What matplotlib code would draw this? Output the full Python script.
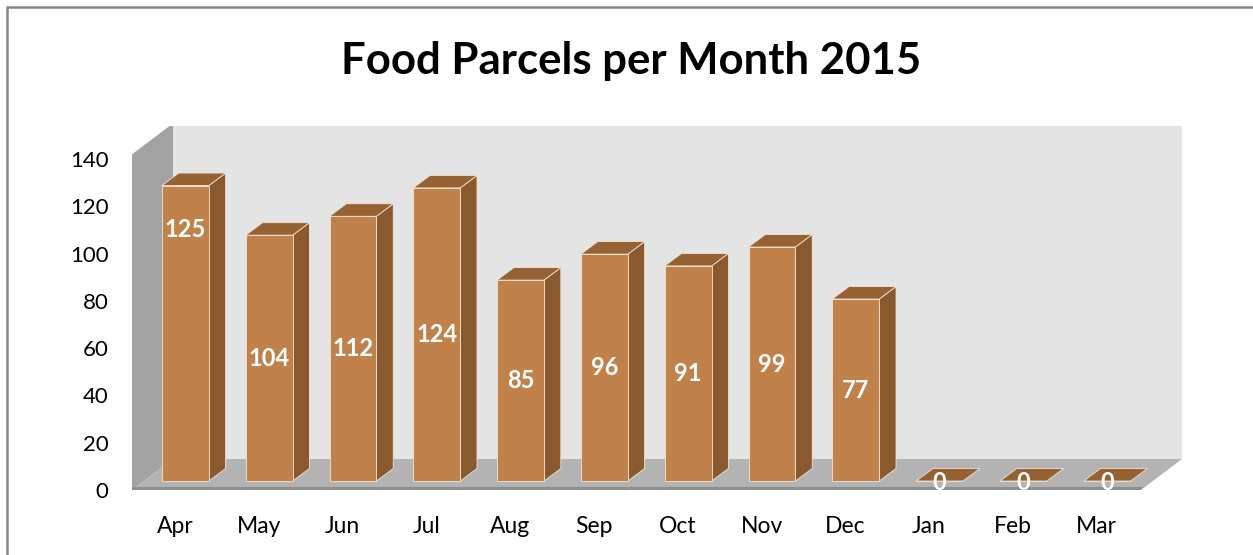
import matplotlib.pyplot as plt
from matplotlib.patches import Polygon, Rectangle

months = ['Apr', 'May', 'Jun', 'Jul', 'Aug', 'Sep', 'Oct', 'Nov', 'Dec', 'Jan', 'Feb', 'Mar']
parcels = [125, 104, 112, 124, 85, 96, 91, 99, 77, 0, 0, 0]
yticks = [0, 20, 40, 60, 80, 100, 120, 140]

# colours
front_col = '#c0814b'
side_col = '#8a5a2e'
top_col = '#966233'
wall_col = '#e4e4e4'
side_wall_col = '#a3a3a3'
floor_col = '#b3b3b3'

plt.rcParams['font.family'] = ['Lato', 'DejaVu Sans']

fig = plt.figure(figsize=(12.53, 5.55), dpi=100)
ax = fig.add_axes([0.1053, 0.1171, 0.838, 0.6559])
ax.set_xlim(-0.513, 12.017)
ax.set_ylim(0, 154.0)

# fake 3d geometry, in data units
off_x, off_y = 0.125, 3.8      # bar front face sits a bit back from the axis plane
ddx, ddy = 0.2, 5.3            # depth of one bar
wdx, wdy = 0.49, 13.1          # depth of the floor / left wall
bw = 0.56
x_lo, x_hi = -0.513, 12.017 - wdx
top_v = 140.0

# back wall, left wall, floor
ax.add_patch(Rectangle((x_lo + wdx, wdy), x_hi - x_lo, 154.0 - wdy, facecolor=wall_col,
                       edgecolor='none', zorder=0))
ax.add_patch(Polygon([(x_lo, 0), (x_lo, top_v + 2), (x_lo + wdx, top_v + 2 + wdy), (x_lo + wdx, wdy)],
                     closed=True, facecolor=side_wall_col, edgecolor='none', zorder=1))
ax.add_patch(Polygon([(x_lo, 0), (x_hi, 0), (x_hi + wdx, wdy), (x_lo + wdx, wdy)],
                     closed=True, facecolor=floor_col, edgecolor='none', zorder=1))
ax.add_patch(Polygon([(x_lo, 0), (x_hi, 0), (x_hi + 0.02, 1.3), (x_lo, 1.3)],
                     closed=True, facecolor='#8e8e8e', edgecolor='none', zorder=1))

# bars
xs = [i + off_x for i in range(len(months))]
ax.bar(xs, parcels, width=bw, bottom=off_y, color=front_col, edgecolor='#f3e4d6',
       linewidth=0.6, zorder=3)
for x, v in zip(xs, parcels):
    x0 = x - bw / 2
    x1 = x + bw / 2
    top = off_y + v
    ax.add_patch(Polygon([(x0, top), (x1, top), (x1 + ddx, top + ddy), (x0 + ddx, top + ddy)],
                         closed=True, facecolor=top_col, edgecolor='#f3e4d6', linewidth=0.6, zorder=4))
    if v > 0:
        ax.add_patch(Polygon([(x1, off_y), (x1, top), (x1 + ddx, top + ddy), (x1 + ddx, off_y + ddy)],
                             closed=True, facecolor=side_col, edgecolor='#f3e4d6', linewidth=0.6, zorder=2))

# data labels, Apr label was moved up in the original
label_pos = {0: 110}
for i, (x, v) in enumerate(zip(xs, parcels)):
    y = label_pos.get(i, off_y + v / 2)
    if v == 0:
        y = 3.0
    ax.text(x, y, str(v), ha='center', va='center', color='white', fontsize=17,
            fontweight='bold', zorder=6)

ax.set_xticks(range(len(months)))
ax.set_xticklabels(months, fontsize=16.5)
ax.set_yticks(yticks)
ax.set_yticklabels([str(t) for t in yticks], fontsize=16)
ax.tick_params(axis='y', length=0, pad=17)
ax.tick_params(axis='x', length=0, pad=19)
for s in ax.spines.values():
    s.set_visible(False)

fig.text(0.504, 0.89, 'Food Parcels per Month 2015', ha='center', va='center',
         fontsize=31.5, fontweight='bold')

# chart border
fig.patches.append(Rectangle((7 / 1253, -0.1), 1.2, 1.1 - 7 / 555, transform=fig.transFigure,
                             fill=False, edgecolor='#888888', linewidth=1.8))

fig.savefig('out.png', dpi=100)
